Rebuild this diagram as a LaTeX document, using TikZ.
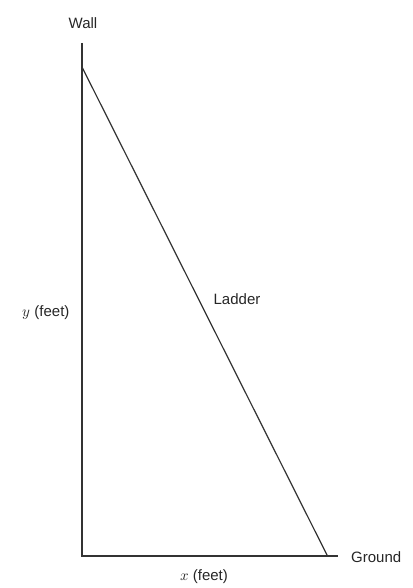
\documentclass[tikz,border=0pt]{standalone}
\usepackage{fontspec}
\setmainfont{Liberation Sans}
\usepackage{unicode-math}
\begin{document}
\begin{tikzpicture}[x=1pt,y=-1pt,
  lbl/.style={inner sep=0pt, font=\fontsize{15}{18}\selectfont, text=black!85},
  line/.style={line width=1.5pt, draw=black!80}]
\useasboundingbox (0,0) rectangle (412,588);
\coordinate (top) at (82,43);
\coordinate (corner) at (82,556);
\coordinate (gend) at (338,556);
\coordinate (ltop) at (82,67);
\coordinate (lbot) at (327,555);
\draw[line] (top) -- (corner) -- (gend);
\draw[line, line width=1.2pt] (ltop) -- (lbot);
\node[lbl] (wall) at (83,23) {Wall};
\node[lbl, anchor=west] (ground) at (351,557) {Ground};
\node[lbl] (xf) at (204,577) {$x$ (feet)};
\node[lbl] (yf) at (46,313) {$y$ (feet)};
\node[lbl] (ladder) at (237,299) {Ladder};
\end{tikzpicture}
\end{document}
